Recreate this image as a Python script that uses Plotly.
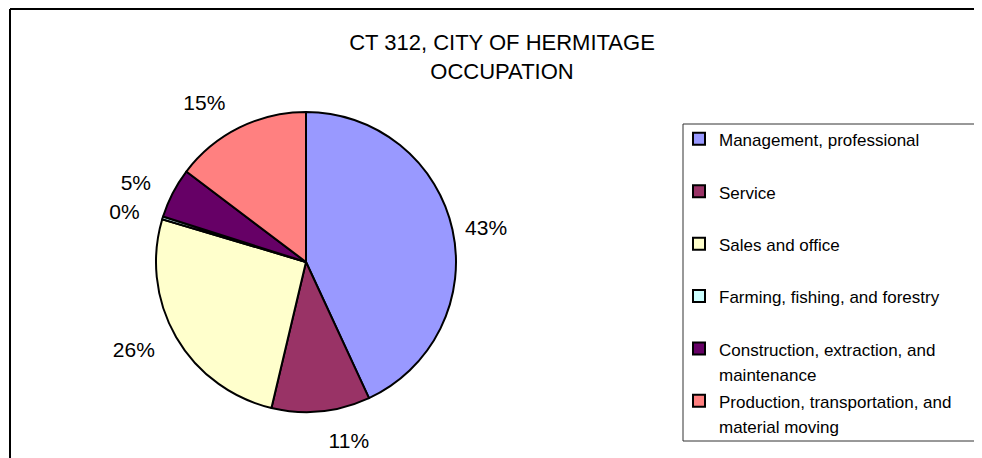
import plotly.graph_objects as go

title_text = "CT 312, CITY OF HERMITAGE<br>OCCUPATION"
categories = [
    "Management, professional",
    "Service",
    "Sales and office",
    "Farming, fishing, and forestry",
    "Construction, extraction, and<br>maintenance",
    "Production, transportation, and<br>material moving",
]
values = [43.1, 10.6, 25.9, 0.3, 5.4, 14.7]
colors = ["#9999FF", "#993366", "#FFFFCC", "#CCFFFF", "#660066", "#FF8080"]

W, H = 982, 458
OFF = 8  # page body margin
FONT = "Liberation Sans, Arial, sans-serif"


def px(x):
    return (x - OFF) / W


def py(y):
    return 1 - (y - OFF) / H


# legend labels: every entry padded to two lines so entries are evenly spaced
legend_labels = []
for c in categories:
    n = c.count("<br>") + 1
    pad = "<br>\u00a0" * (2 - n)
    legend_labels.append('<span style="font-size:17px">' + c + "</span>" + pad)

# pie geometry (screen pixels)
cx, cy, r = 306, 262, 150
label_rings = [(157, [0]), (168, [1, 2, 3, 4, 5])]  # (radius, slices labelled on it)

fig = go.Figure()
fig.add_trace(go.Pie(
    labels=legend_labels,
    values=values,
    sort=False,
    direction="clockwise",
    rotation=0,
    marker=dict(colors=colors, line=dict(color="black", width=2)),
    textinfo="none",
    hoverinfo="label+percent",
    domain=dict(x=[px(cx - r), px(cx + r)], y=[py(cy + r), py(cy - r)]),
    showlegend=True,
))
# transparent rings carrying the percentage labels a little further out
for rr, idx in label_rings:
    fig.add_trace(go.Pie(
        labels=legend_labels,
        values=values,
        sort=False,
        direction="clockwise",
        rotation=0,
        marker=dict(colors=["rgba(0,0,0,0)"] * len(values), line=dict(width=0)),
        textposition="outside",
        texttemplate=["%{percent:.0%}" if i in idx else "" for i in range(len(values))],
        textfont=dict(family=FONT, size=21, color="black"),
        hoverinfo="skip",
        domain=dict(x=[px(cx - rr), px(cx + rr)], y=[py(cy + rr), py(cy - rr)]),
        showlegend=False,
    ))

fig.update_layout(
    width=W, height=H,
    margin=dict(l=0, r=0, t=0, b=0),
    paper_bgcolor="white",
    plot_bgcolor="white",
    title=dict(text=title_text, x=px(502), xanchor="center", y=py(50), yanchor="top",
               font=dict(family=FONT, size=22, color="black")),
    legend=dict(
        x=px(679), xanchor="left", y=py(120), yanchor="top",
        font=dict(family=FONT, size=19, color="black"),
        bgcolor="rgba(0,0,0,0)", borderwidth=0, valign="top",
        traceorder="normal",
    ),
    shapes=[
        # legend frame
        dict(type="rect", xref="paper", yref="paper",
             x0=px(683), x1=px(975), y0=py(441), y1=py(124),
             line=dict(color="#333333", width=1)),
        # outer chart frame (continues beyond the window)
        dict(type="line", xref="paper", yref="paper",
             x0=px(10), x1=1.0, y0=py(9), y1=py(9),
             line=dict(color="black", width=2)),
        dict(type="line", xref="paper", yref="paper",
             x0=px(10), x1=px(10), y0=py(9), y1=0,
             line=dict(color="black", width=2)),
    ],
)

fig.write_html("out.html")
